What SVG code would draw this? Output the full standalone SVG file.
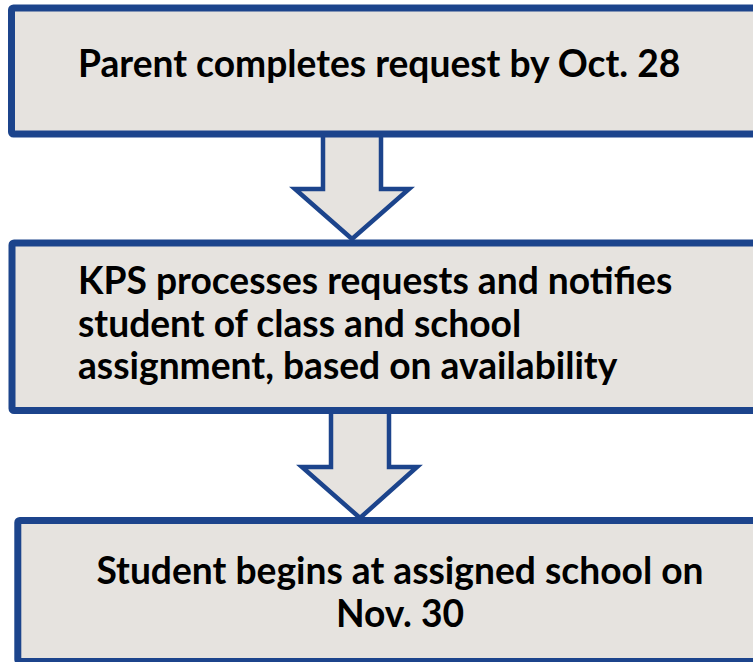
<svg xmlns="http://www.w3.org/2000/svg" width="753" height="662" viewBox="0 0 753 662">
<style>
.box{fill:#e6e3df;stroke:#1c448c;stroke-width:7}
.arr{fill:#e6e3df;stroke:#1c448c;stroke-width:4.5;stroke-linejoin:miter}
text{font-family:Lato,"Noto Sans",sans-serif;font-weight:bold;font-size:37.2px;fill:#000}
</style>
<rect width="753" height="662" fill="#fff"/>
<g id="connectors">
<polygon class="arr" points="323,134 381,134 381,189 409,189 352,239 295,189 323,189"/>
<polygon class="arr" points="331,411 389,411 389,467 417,467 360,518 302,467 331,467"/>
</g>
<g id="node1">
<rect class="box" x="11.5" y="8" width="760" height="126" rx="2"/>
<text x="78" y="77">Parent completes request by Oct. 28</text>
</g>
<g id="node2">
<rect class="box" x="12" y="243" width="760" height="167.5" rx="2"/>
<text x="78" y="294">KPS processes requests and notifies</text>
<text x="78" y="337">student of class and school</text>
<text x="78" y="379">assignment, based on availability</text>
</g>
<g id="node3">
<rect class="box" x="17.8" y="520.5" width="760" height="141" rx="2"/>
<text x="400" y="584" text-anchor="middle">Student begins at assigned school on</text>
<text x="400" y="627" text-anchor="middle">Nov. 30</text>
</g>
</svg>
